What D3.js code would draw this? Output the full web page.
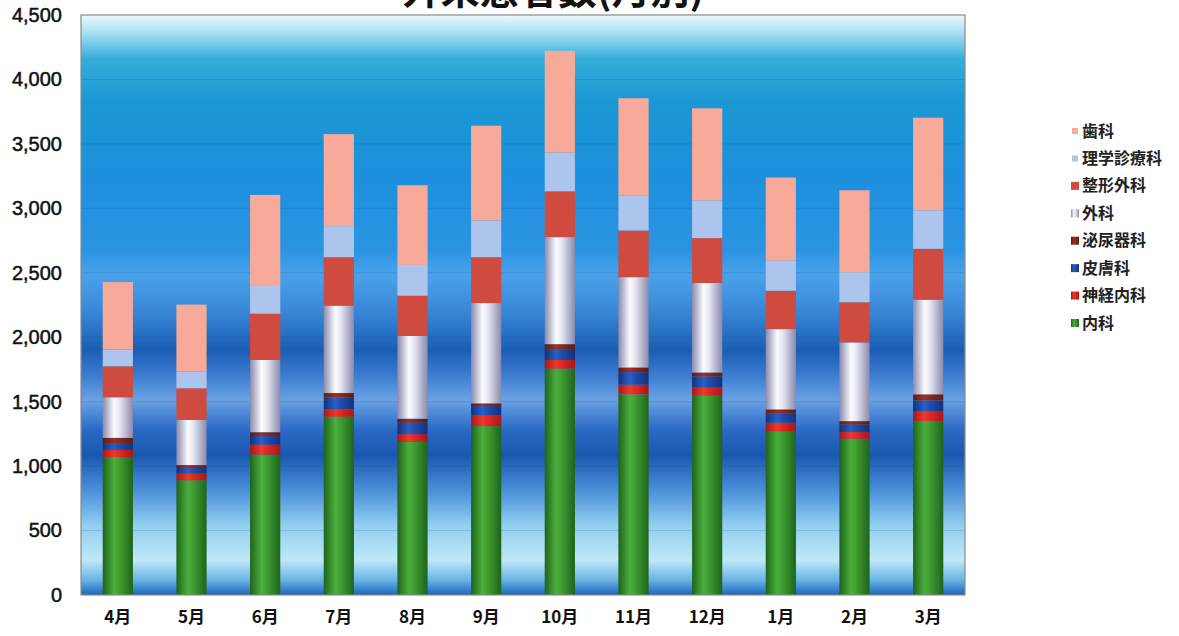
<!DOCTYPE html>
<html><head><meta charset="utf-8">
<script src="https://cdn.jsdelivr.net/npm/d3@7"></script>
<style>
html,body{margin:0;padding:0;background:#fff;}
svg{display:block;}
</style></head>
<body>
<svg id="chart" width="1179" height="636"></svg>
<script>
const months = ["4月","5月","6月","7月","8月","9月","10月","11月","12月","1月","2月","3月"];
const naika   = [1070, 890, 1090, 1383, 1188, 1310, 1757, 1557, 1545, 1271, 1212, 1349];
const shinkei = [57, 52, 78, 57, 60, 83, 67, 75, 64, 66, 52, 78];
const hifu    = [52, 44, 65, 92, 90, 73, 83, 97, 86, 72, 59, 83];
const hinyoki = [40, 22, 30, 35, 30, 21, 39, 36, 31, 31, 26, 47];
const geka    = [315, 350, 562, 678, 643, 778, 831, 701, 695, 623, 611, 734];
const seikei  = [240, 246, 358, 376, 311, 356, 355, 362, 348, 298, 311, 395];
const rigaku  = [132, 130, 215, 241, 239, 285, 301, 273, 293, 234, 233, 298];
const shika   = [522, 519, 706, 714, 618, 735, 789, 753, 714, 644, 636, 719];
const seriesNames = ["内科","神経内科","皮膚科","泌尿器科","外科","整形外科","理学診療科","歯科"];
const seriesValues = [naika, shinkei, hifu, hinyoki, geka, seikei, rigaku, shika];
const yTicks = [0,500,1000,1500,2000,2500,3000,3500,4000,4500];
const title = "外来患者数(月別)";

const table = months.map((m,i)=>{
  const row = {month:m};
  seriesNames.forEach((s,j)=>row[s]=seriesValues[j][i]);
  return row;
});

const svg = d3.select("#chart");
const defs = svg.append("defs");
const L=81, R=965, T=15, B=595;

const x = d3.scaleBand().domain(months).range([L,R]).paddingInner(0.59).paddingOuter(0.295);
const y = d3.scaleLinear().domain([0,4500]).range([B,T]);

// background gradient
const bg = defs.append("linearGradient").attr("id","bg").attr("x1",0).attr("x2",0).attr("y1",0).attr("y2",1);
[[0,"#eafafc"],[0.03,"#a8e0f2"],[0.075,"#36aedc"],[0.147,"#1a98d2"],[0.284,"#1e90de"],[0.405,"#2a94e2"],
 [0.448,"#4aa2ea"],[0.509,"#3a88d8"],[0.578,"#1a5eb4"],[0.621,"#3c7cd0"],[0.664,"#6aa2e4"],[0.716,"#2a68c4"],
 [0.759,"#1a58b0"],[0.819,"#4a8ed8"],[0.879,"#90cef0"],[0.94,"#bfe8f8"],[0.974,"#6ab4e4"],[1,"#1e64bc"]]
 .forEach(([o,c])=>bg.append("stop").attr("offset",o).attr("stop-color",c));

function cyl(id, edge, mid, hi){
  const g = defs.append("linearGradient").attr("id",id).attr("x1",0).attr("x2",1).attr("y1",0).attr("y2",0);
  g.append("stop").attr("offset",0).attr("stop-color",edge);
  g.append("stop").attr("offset",0.38).attr("stop-color",hi);
  g.append("stop").attr("offset",0.55).attr("stop-color",mid);
  g.append("stop").attr("offset",1).attr("stop-color",edge);
}
cyl("g0","#1e641a","#3f9e32","#4cae3c");
cyl("g1","#a81616","#e02a22","#ee3a2e");
cyl("g2","#14307a","#1f4eae","#2a60c4");
cyl("g3","#5e1a12","#8a2a1e","#9a3424");
cyl("g4","#8a8aae","#e8e8f4","#fbfbff");

const fills = ["url(#g0)","url(#g1)","url(#g2)","url(#g3)","url(#g4)","#cf4a3f","#adc4ec","#f7a99a"];

svg.append("rect").attr("x",L).attr("y",T).attr("width",R-L).attr("height",B-T).attr("fill","url(#bg)");

// gridlines
svg.append("g").selectAll("line").data(yTicks.filter(d=>d>0 && d<4500)).join("line")
  .attr("x1",L).attr("x2",R).attr("y1",d=>y(d)).attr("y2",d=>y(d))
  .attr("stroke","#0a3a6a").attr("stroke-opacity",0.15).attr("stroke-width",1);

// stacked bars
const stack = d3.stack().keys(seriesNames)(table);
svg.append("g").selectAll("g").data(stack).join("g")
  .attr("fill",(d,i)=>fills[i])
  .selectAll("rect").data(d=>d).join("rect")
  .attr("x",d=>x(d.data.month)).attr("width",x.bandwidth())
  .attr("y",d=>y(d[1])).attr("height",d=>y(d[0])-y(d[1]));

// border
svg.append("rect").attr("x",L).attr("y",T).attr("width",R-L).attr("height",B-T)
  .attr("fill","none").attr("stroke","#8a8a8a").attr("stroke-width",1.2);

// y axis
const yAxis = d3.axisLeft(y).tickValues(yTicks).tickFormat(d3.format(",")).tickSize(0).tickPadding(19);
const ya = svg.append("g").attr("transform",`translate(${L},0)`).call(yAxis);
ya.select(".domain").remove();
ya.selectAll("text").attr("font-family","Liberation Sans, Arial, sans-serif").attr("font-size",20)
  .attr("font-weight","normal").attr("fill","#111").attr("stroke","#111").attr("stroke-width",0.5);

// x axis
const xAxis = d3.axisBottom(x).tickSize(0).tickPadding(16);
const xa = svg.append("g").attr("transform",`translate(0,${B})`).call(xAxis);
xa.select(".domain").remove();
xa.selectAll("text").attr("font-family","Noto Sans CJK JP, sans-serif").attr("font-size",17)
  .attr("font-weight","bold").attr("fill","#111");

// title (cut off at the top, as in the reference)
svg.append("text").attr("x",553).attr("y",4).attr("text-anchor","middle")
  .attr("font-family","Noto Sans CJK JP, sans-serif").attr("font-weight","bold").attr("font-size",39)
  .attr("fill","#111").text(title);

// legend
const legendOrder = seriesNames.map((n,i)=>({n,i})).reverse();
const lg = svg.append("g");
const rowY = d3.scalePoint().domain(legendOrder.map(d=>d.n)).range([131,323]);
const items = lg.selectAll("g").data(legendOrder).join("g").attr("transform",d=>`translate(0,${rowY(d.n)})`);
items.append("rect").attr("x",d=>d.i>=6?1072:1071).attr("y",d=>d.i>=6?-3:-4)
  .attr("width",d=>d.i>=6?6:8).attr("height",d=>d.i>=6?6:8).attr("fill",d=>fills[d.i]);
items.append("text").attr("x",1082).attr("y",0).attr("dy","0.35em")
  .attr("font-family","Noto Sans CJK JP, sans-serif").attr("font-weight","bold").attr("font-size",16)
  .attr("fill","#222").text(d=>d.n);
</script>
</body></html>
